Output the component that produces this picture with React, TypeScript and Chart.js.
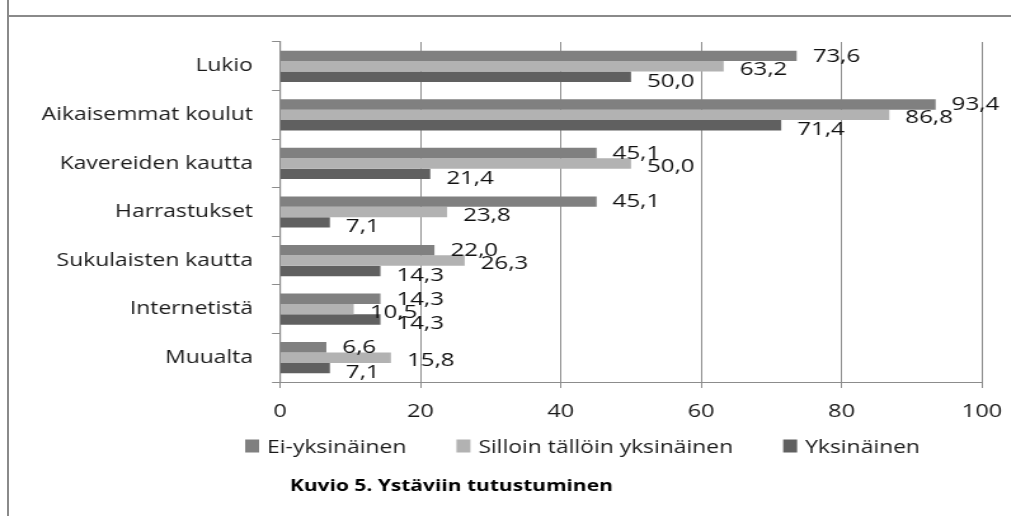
import React, { useEffect, useRef } from 'react';
import { Chart, registerables } from 'chart.js';

Chart.register(...registerables);

const categories = [
  'Lukio',
  'Aikaisemmat koulut',
  'Kavereiden kautta',
  'Harrastukset',
  'Sukulaisten kautta',
  'Internetistä',
  'Muualta',
];
const seriesNames = ['Ei-yksinäinen', 'Silloin tällöin yksinäinen', 'Yksinäinen'];
const eiYksinainen = [73.6, 93.4, 45.1, 45.1, 22.0, 14.3, 6.6];
const silloinTalloin = [63.2, 86.8, 50.0, 23.8, 26.3, 10.5, 15.8];
const yksinainen = [50.0, 71.4, 21.4, 7.1, 14.3, 14.3, 7.1];
const xTicks = [0, 20, 40, 60, 80, 100];
const caption = 'Kuvio 5. Ystäviin tutustuminen';

const COLORS = ['#808080', '#b2b2b2', '#606060'];
const FONT = "'Open Sans', sans-serif";
const STRETCH = 1.27;
const W = 796;
const H = 516;
const LABEL_DY = [0.5, 3.2, 4.5];

const valueLabels = {
  id: 'valueLabels',
  afterDatasetsDraw(chart: any) {
    const ctx = chart.ctx;
    ctx.save();
    ctx.font = `19px ${FONT}`;
    ctx.fillStyle = '#111';
    ctx.textAlign = 'left';
    ctx.textBaseline = 'middle';
    chart.data.datasets.forEach((ds: any, i: number) => {
      const meta = chart.getDatasetMeta(i);
      meta.data.forEach((el: any, j: number) => {
        const v = ds.data[j] as number;
        ctx.fillText(v.toFixed(1).replace('.', ','), el.x + 12.6, el.y + LABEL_DY[i]);
      });
    });
    ctx.restore();
  },
};

const legendAndCaption = {
  id: 'legendAndCaption',
  afterDraw(chart: any) {
    const ctx = chart.ctx;
    ctx.save();
    ctx.font = `18px ${FONT}`;
    ctx.textBaseline = 'middle';
    ctx.textAlign = 'left';
    let x = 193;
    const y = 446;
    chart.data.datasets.forEach((ds: any) => {
      ctx.fillStyle = ds.backgroundColor;
      ctx.fillRect(x, y - 6.5, 11, 13);
      x += 11 + 6.3;
      ctx.fillStyle = '#1a1a1a';
      ctx.fillText(ds.label, x, y + 1.5);
      x += ctx.measureText(ds.label).width + 39.4;
    });
    ctx.font = `bold 16.5px ${FONT}`;
    ctx.fillStyle = '#000';
    ctx.fillText(caption, 228.3, 486);
    ctx.restore();
  },
};

export default function App() {
  const ref = useRef<HTMLCanvasElement | null>(null);

  useEffect(() => {
    if (!ref.current) return;
    Chart.defaults.font.family = FONT;
    const chart = new Chart(ref.current, {
      type: 'bar',
      data: {
        labels: categories,
        datasets: [eiYksinainen, silloinTalloin, yksinainen].map((d, i) => ({
          label: seriesNames[i],
          data: d,
          backgroundColor: COLORS[i],
          borderWidth: 0,
          categoryPercentage: 0.643,
          barPercentage: 1,
        })),
      },
      options: {
        indexAxis: 'y',
        responsive: false,
        animation: false,
        layout: { padding: { top: 42, right: 22.8, bottom: 94, left: 0 } },
        plugins: {
          legend: { display: false },
          tooltip: { enabled: false },
          title: { display: false },
        },
        scales: {
          x: {
            min: 0,
            max: 100,
            afterBuildTicks: (s: any) => {
              s.ticks = xTicks.map((value) => ({ value }));
            },
            grid: { color: '#8c8c8c', tickLength: 6, drawTicks: true },
            border: { display: true, color: '#8c8c8c' },
            ticks: { font: { size: 18.5 }, color: '#1a1a1a', padding: 13 },
            afterFit: (s: any) => {
              s.height = 40;
              s.paddingLeft = 0;
              s.paddingRight = 0;
            },
          },
          y: {
            grid: {
              drawOnChartArea: false,
              drawTicks: true,
              tickLength: 6.3,
              color: '#8c8c8c',
              offset: true,
            },
            border: { display: true, color: '#8c8c8c', width: 1.2 },
            ticks: { font: { size: 18 }, color: '#1a1a1a', padding: 15 },
            afterFit: (s: any) => {
              s.width = 220.5;
            },
          },
        },
      },
      plugins: [valueLabels, legendAndCaption],
    } as any);
    return () => chart.destroy();
  }, []);

  return (
    <div
      style={{
        position: 'absolute',
        left: 0,
        top: 0,
        width: 1011,
        height: 516,
        overflow: 'hidden',
        background: '#fff',
      }}
    >
      <div
        style={{
          position: 'absolute',
          left: 0,
          top: 0,
          width: W,
          height: H,
          transform: `scaleX(${STRETCH})`,
          transformOrigin: '0 0',
        }}
      >
        <canvas ref={ref} width={W} height={H} style={{ display: 'block' }} />
      </div>
      <div
        style={{ position: 'absolute', left: 7, top: 0, width: 2, height: 516, background: '#8a8a8a' }}
      />
      <div
        style={{ position: 'absolute', left: 8, top: 15, width: 1003, height: 2, background: '#8a8a8a' }}
      />
    </div>
  );
}
